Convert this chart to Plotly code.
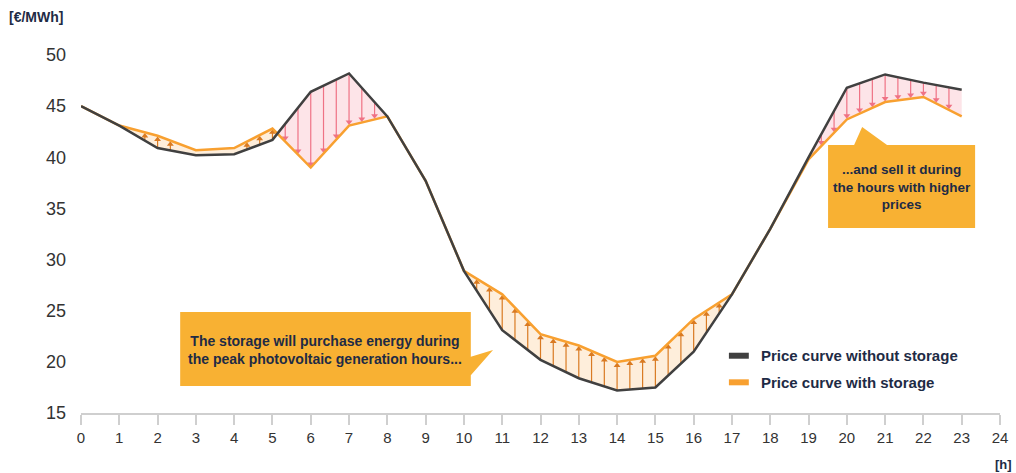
import numpy as np
import plotly.graph_objects as go

hours = list(range(24))
price_without = [45.0, 43.1, 40.9, 40.2, 40.3, 41.7, 46.4, 48.2, 44.0, 37.7, 28.9, 23.1,
                 20.2, 18.4, 17.2, 17.5, 21.0, 26.6, 33.0, 40.0, 46.8, 48.1, 47.3, 46.6]
price_with = [45.0, 43.1, 42.1, 40.7, 40.9, 42.8, 39.0, 43.1, 44.0, 37.7, 28.9, 26.6,
              22.7, 21.6, 20.0, 20.6, 24.2, 26.6, 33.0, 39.8, 43.7, 45.4, 45.9, 44.0]
x_ticks = list(range(25))
y_ticks = [15, 20, 25, 30, 35, 40, 45, 50]

name_without = "Price curve without storage"
name_with = "Price curve with storage"
y_unit = "[€/MWh]"
x_unit = "[h]"
note_buy = "The storage will purchase energy during<br>the peak photovoltaic generation hours..."
note_sell = "...and sell it during<br>the hours with higher<br>prices"

C_BLACK = "#404040"
C_ORANGE = "#F8A030"
C_PINK_FILL = "#FDE4E8"
C_ORANGE_FILL = "#FEEEDB"
C_PINK_ARROW = "#EF7285"
C_ORANGE_ARROW = "#D97A22"
C_BOX = "#F8B133"
C_TEXT = "#1E2B45"
FONT = "Liberation Sans, Arial, sans-serif"

x = np.array(hours, dtype=float)
b = np.array(price_without)
o = np.array(price_with)

# points with crossings inserted
pts = []
for i in range(len(x) - 1):
    pts.append((x[i], o[i], b[i]))
    d0, d1 = o[i] - b[i], o[i + 1] - b[i + 1]
    if d0 * d1 < 0:
        t = d0 / (d0 - d1)
        xc = x[i] + t * (x[i + 1] - x[i])
        yc = b[i] + t * (b[i + 1] - b[i])
        pts.append((xc, yc, yc))
pts.append((x[-1], o[-1], b[-1]))

regions = []
cur, cur_sign = None, 0
for j in range(len(pts) - 1):
    s = (pts[j][1] - pts[j][2]) + (pts[j + 1][1] - pts[j + 1][2])
    sign = 1 if s > 1e-9 else (-1 if s < -1e-9 else 0)
    if sign != 0 and sign == cur_sign:
        cur.append(pts[j + 1])
    else:
        if cur:
            regions.append((cur_sign, cur))
        cur = [pts[j], pts[j + 1]] if sign != 0 else None
        cur_sign = sign
if cur:
    regions.append((cur_sign, cur))

fig = go.Figure()

for sign, seg in regions:
    xs = [p[0] for p in seg] + [p[0] for p in seg[::-1]]
    ys = [p[1] for p in seg] + [p[2] for p in seg[::-1]]
    fig.add_trace(go.Scatter(x=xs, y=ys, fill="toself", mode="lines", line=dict(width=0),
                             fillcolor=C_ORANGE_FILL if sign > 0 else C_PINK_FILL,
                             hoverinfo="skip", showlegend=False))

# arrows from price without storage to price with storage
for sign, seg in regions:
    x0, x1 = seg[0][0], seg[-1][0]
    k0 = int(np.floor(x0 * 3)) + 1
    k1 = int(np.ceil(x1 * 3)) - 1
    sx, sy, hx, hy = [], [], [], []
    for k in range(k0, k1 + 1):
        xa = k / 3.0
        if xa <= x0 + 0.05 or xa >= x1 - 0.05:
            continue
        yb = float(np.interp(xa, x, b))
        yo = float(np.interp(xa, x, o))
        if abs(yo - yb) < 0.75:
            continue
        off = 0.35 if sign > 0 else -0.35
        sx += [xa, xa, None]
        sy += [yb, yo - off, None]
        hx.append(xa)
        hy.append(yo - off)
    col = C_ORANGE_ARROW if sign > 0 else C_PINK_ARROW
    fig.add_trace(go.Scatter(x=sx, y=sy, mode="lines", line=dict(color=col, width=1.2),
                             hoverinfo="skip", showlegend=False))
    fig.add_trace(go.Scatter(x=hx, y=hy, mode="markers",
                             marker=dict(symbol="triangle-up" if sign > 0 else "triangle-down",
                                         size=6, color=col),
                             hoverinfo="skip", showlegend=False))

fig.add_trace(go.Scatter(x=hours, y=price_with, mode="lines", name=name_with,
                         line=dict(color=C_ORANGE, width=2.5), showlegend=False))
fig.add_trace(go.Scatter(x=hours, y=price_without, mode="lines", name=name_without,
                         line=dict(color=C_BLACK, width=2.5), showlegend=False))

shapes = [
    dict(type="path", xref="x", yref="y", fillcolor=C_BOX, line=dict(width=0), layer="above",
         path="M 2.59,24.87 L 10.18,24.87 L 10.18,20.5 L 10.76,21.16 L 10.18,18.7 "
              "L 10.18,17.64 L 2.59,17.64 Z"),
    dict(type="path", xref="x", yref="y", fillcolor=C_BOX, line=dict(width=0), layer="above",
         path="M 19.51,41.2 L 20.19,41.2 L 20.40,42.96 L 21.05,41.2 L 23.35,41.2 "
              "L 23.35,33.08 L 19.51,33.08 Z"),
    # manual legend symbols
    dict(type="line", xref="x", yref="y", x0=16.92, x1=17.44, y0=20.6, y1=20.6,
         line=dict(color=C_BLACK, width=6)),
    dict(type="line", xref="x", yref="y", x0=16.92, x1=17.44, y0=18.0, y1=18.0,
         line=dict(color=C_ORANGE, width=6)),
]

annotations = [
    dict(text="<b>" + note_buy + "</b>", x=6.385, y=21.2, xref="x", yref="y", showarrow=False,
         font=dict(family=FONT, size=14, color=C_TEXT), align="center"),
    dict(text="<b>" + note_sell + "</b>", x=21.43, y=37.05, xref="x", yref="y", showarrow=False,
         font=dict(family=FONT, size=13.5, color=C_TEXT), align="center"),
    dict(text="<b>" + name_without + "</b>", x=17.7, y=20.6, xref="x", yref="y",
         xanchor="left", showarrow=False, font=dict(family=FONT, size=15, color=C_TEXT)),
    dict(text="<b>" + name_with + "</b>", x=17.7, y=18.0, xref="x", yref="y",
         xanchor="left", showarrow=False, font=dict(family=FONT, size=15, color=C_TEXT)),
    dict(text="<b>" + y_unit + "</b>", xref="paper", yref="paper", x=-0.081, y=1.106,
         xanchor="left", yanchor="middle", showarrow=False,
         font=dict(family=FONT, size=14, color=C_TEXT)),
    dict(text="<b>" + x_unit + "</b>", xref="paper", yref="paper", x=1.004, y=-0.145,
         xanchor="center", yanchor="middle", showarrow=False,
         font=dict(family=FONT, size=13, color=C_TEXT)),
]

fig.update_layout(
    width=1016, height=473, autosize=False,
    margin=dict(l=81, r=16, t=55, b=60, autoexpand=False),
    paper_bgcolor="white", plot_bgcolor="white",
    shapes=shapes, annotations=annotations, showlegend=False,
    xaxis=dict(range=[0, 24], tickvals=x_ticks, ticktext=[str(v) for v in x_ticks],
               automargin=False,
               showgrid=False, zeroline=False, showline=True, linecolor="#CFCFCF", linewidth=2,
               ticks="outside", ticklen=10, tickwidth=1.5, tickcolor="#CFCFCF",
               tickfont=dict(family=FONT, size=15, color="#333333")),
    yaxis=dict(range=[15, 50], tickvals=y_ticks, showgrid=False, zeroline=False, showline=False,
               automargin=False, ticks="", ticklabelstandoff=14,
               tickfont=dict(family=FONT, size=18, color="#333333")),
)

fig.write_html("out.html", config={"displayModeBar": False},
               post_script="document.body.style.margin='0px';")
